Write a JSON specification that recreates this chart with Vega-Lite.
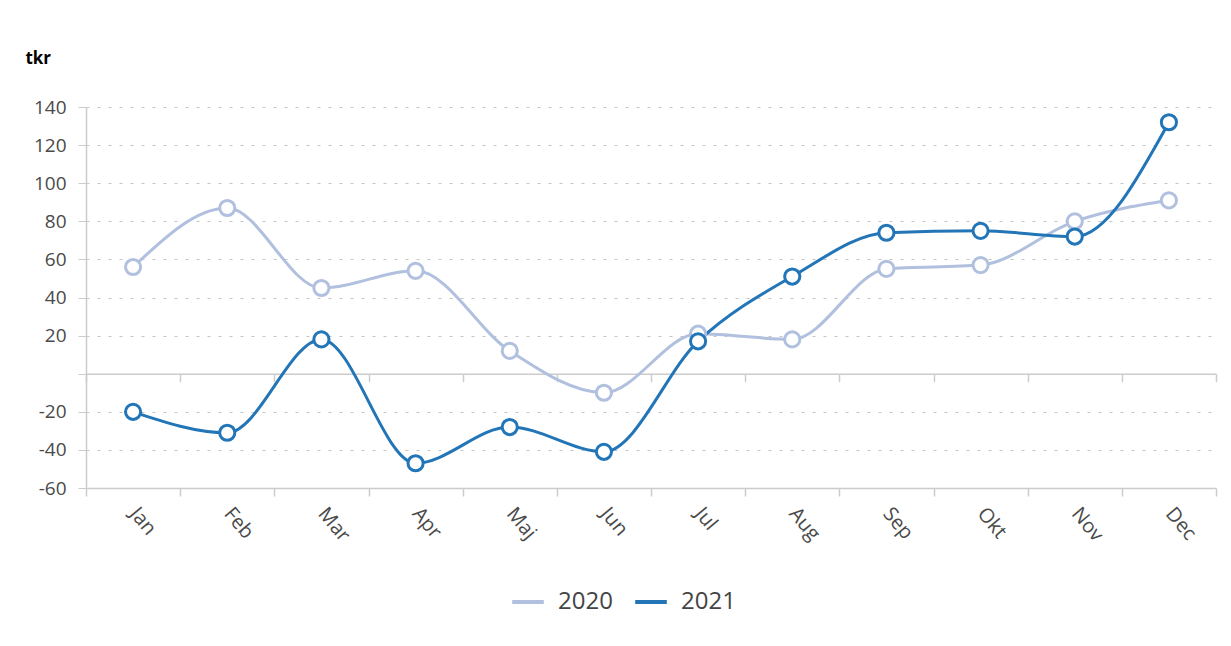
{
  "$schema": "https://vega.github.io/schema/vega-lite/v6.json",
  "width": 1130,
  "height": 381,
  "autosize": "none",
  "padding": {"left": 86, "top": 107, "right": 15, "bottom": 158},
  "background": "white",
  "config": {"view": {"stroke": null}},
  "title": {"text": "tkr", "anchor": "start", "frame": "bounds", "fontSize": 17, "font": "Open Sans", "fontWeight": "bold", "color": "#000000", "dx": -8, "offset": 30},
  "data": {"values": [
    {"month": "Jan", "year": "2020", "value": 56},
    {"month": "Feb", "year": "2020", "value": 87},
    {"month": "Mar", "year": "2020", "value": 45},
    {"month": "Apr", "year": "2020", "value": 54},
    {"month": "Maj", "year": "2020", "value": 12},
    {"month": "Jun", "year": "2020", "value": -10},
    {"month": "Jul", "year": "2020", "value": 21},
    {"month": "Aug", "year": "2020", "value": 18},
    {"month": "Sep", "year": "2020", "value": 55},
    {"month": "Okt", "year": "2020", "value": 57},
    {"month": "Nov", "year": "2020", "value": 80},
    {"month": "Dec", "year": "2020", "value": 91},
    {"month": "Jan", "year": "2021", "value": -20},
    {"month": "Feb", "year": "2021", "value": -31},
    {"month": "Mar", "year": "2021", "value": 18},
    {"month": "Apr", "year": "2021", "value": -47},
    {"month": "Maj", "year": "2021", "value": -28},
    {"month": "Jun", "year": "2021", "value": -41},
    {"month": "Jul", "year": "2021", "value": 17},
    {"month": "Aug", "year": "2021", "value": 51},
    {"month": "Sep", "year": "2021", "value": 74},
    {"month": "Okt", "year": "2021", "value": 75},
    {"month": "Nov", "year": "2021", "value": 72},
    {"month": "Dec", "year": "2021", "value": 132}
  ]},
  "layer": [
    {
      "mark": {"type": "line", "interpolate": "monotone", "strokeWidth": 3},
      "encoding": {
        "x": {
          "field": "month", "type": "ordinal",
          "sort": ["Jan","Feb","Mar","Apr","Maj","Jun","Jul","Aug","Sep","Okt","Nov","Dec"],
          "scale": {"type": "band", "paddingInner": 0, "paddingOuter": 0},
          "axis": {"orient": "bottom", "title": null, "tickBand": "extent", "labelAngle": 50, "labelFontSize": 20, "labelFont": "Open Sans", "labelColor": "#4a4a4a", "domainColor": "#cccccc", "domainWidth": 1.5, "tickColor": "#cccccc", "tickWidth": 1.5, "tickSize": 8, "labelPadding": 14, "grid": false}
        },
        "y": {
          "field": "value", "type": "quantitative",
          "scale": {"domain": [-60, 140], "nice": false, "zero": false},
          "axis": {"title": null, "values": [-60,-40,-20,0,20,40,60,80,100,120,140], "tickCount": 20, "labelExpr": "datum.value == 0 ? '' : toString(datum.value)", "labelOverlap": false, "grid": true, "gridDash": [3, 8], "gridColor": "#c4c4c4", "domainColor": "#cccccc", "domainWidth": 1.5, "tickColor": "#cccccc", "tickSize": 8, "labelFontSize": 19, "labelFont": "Open Sans", "labelColor": "#4a4a4a", "labelPadding": 12}
        },
        "color": {
          "field": "year", "type": "nominal",
          "scale": {"domain": ["2020", "2021"], "range": ["#b0c0de", "#2275b7"]},
          "legend": {"orient": "none", "legendX": 424, "legendY": 477, "direction": "horizontal", "title": null, "symbolType": "stroke", "symbolStrokeWidth": 4, "symbolSize": 1000, "labelFontSize": 24, "labelFont": "Open Sans", "labelColor": "#444444", "columnPadding": 14, "labelOffset": 12}
        }
      }
    },
    {
      "mark": {"type": "point", "filled": false, "fill": "white", "fillOpacity": 1, "size": 230, "strokeWidth": 3, "opacity": 1},
      "encoding": {
        "x": {
          "field": "month", "type": "ordinal",
          "sort": ["Jan","Feb","Mar","Apr","Maj","Jun","Jul","Aug","Sep","Okt","Nov","Dec"],
          "axis": {"orient": "top", "offset": -266.7, "labels": false, "title": null, "tickBand": "extent", "tickSize": -8, "domainColor": "#cccccc", "domainWidth": 1.5, "tickColor": "#cccccc", "tickWidth": 1.5, "grid": false}
        },
        "y": {"field": "value", "type": "quantitative"},
        "stroke": {
          "field": "year", "type": "nominal",
          "scale": {"domain": ["2020", "2021"], "range": ["#b0c0de", "#2275b7"]},
          "legend": null
        }
      }
    }
  ],
  "resolve": {"axis": {"x": "independent"}}
}
